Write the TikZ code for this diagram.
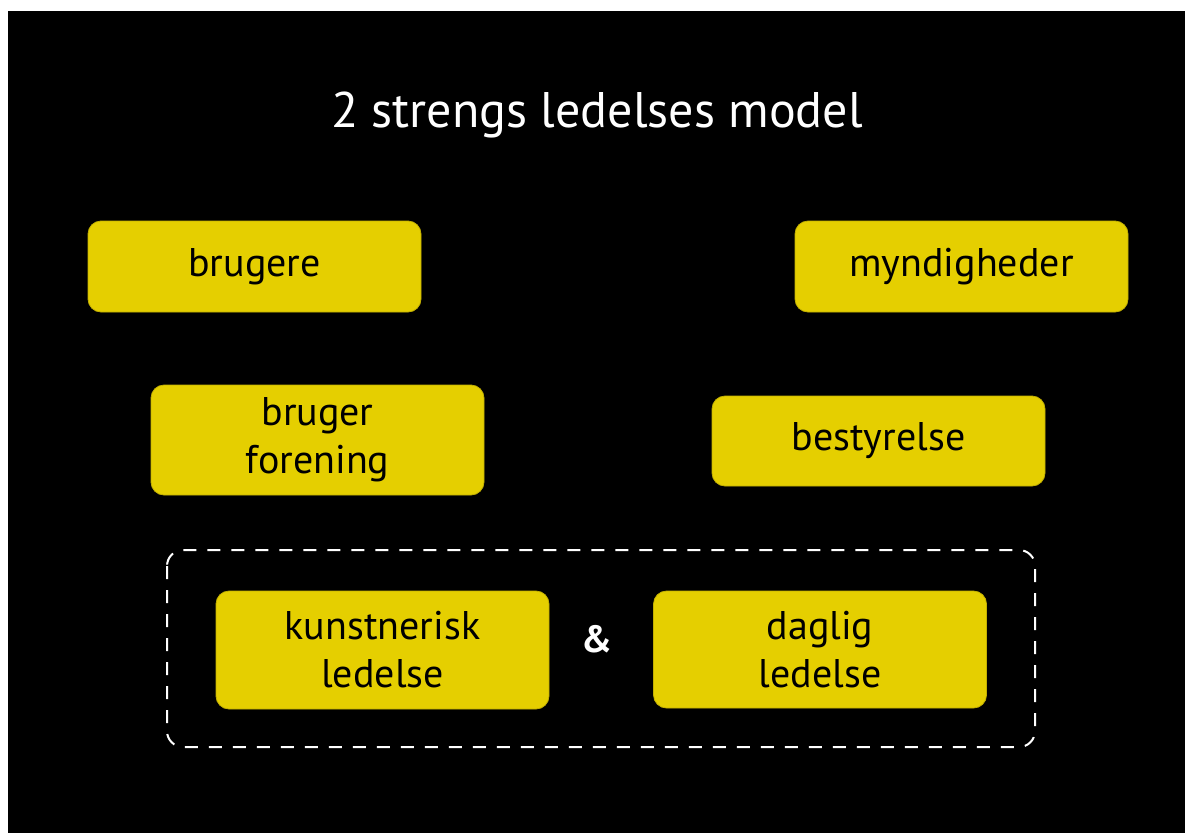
\documentclass[tikz,border=0pt]{standalone}
\usepackage{fontspec}
\setmainfont{PT Sans}
\definecolor{boxyellow}{HTML}{E5CF00}
\begin{document}
\begin{tikzpicture}[x=1pt,y=-1pt,
  ybox/.style={fill=boxyellow, draw=boxyellow!85!black, line width=0.8pt, rounded corners=13pt,
    minimum width=333pt, align=center, inner sep=0pt,
    font=\fontsize{40}{48}\selectfont, text=black},
  groupbox/.style={draw=white, line width=2pt, dash pattern=on 13pt off 11pt, rounded corners=16pt}]
\useasboundingbox (0,0) rectangle (1185,833);
\fill[white] (0,0) rectangle (1185,833);
\fill[black] (8,11) rectangle (1185,833);
\node[text=white, font=\fontsize{50}{60}\selectfont] (title) at (597,115) {2 strengs ledelses model};
\node[ybox, minimum height=91pt] (brugere) at (254.5,266.5) {brugere};
\node[ybox, minimum height=110pt] (forening) at (317.5,440) {bruger\\forening};
\node[ybox, minimum height=91pt] (myndigheder) at (961.5,266.5) {myndigheder};
\node[ybox, minimum height=90pt] (bestyrelse) at (878.5,441) {bestyrelse};
\node[ybox, minimum height=118pt] (kunst) at (382.5,650) {kunstnerisk\\ledelse};
\node[ybox, minimum height=117pt] (daglig) at (820,649.5) {daglig\\ledelse};
\node[text=white, font=\bfseries\fontsize{38}{47}\selectfont] (amp) at (597,639) {\&};
\draw[groupbox] (167,550) rectangle (1035,747);
\end{tikzpicture}
\end{document}
